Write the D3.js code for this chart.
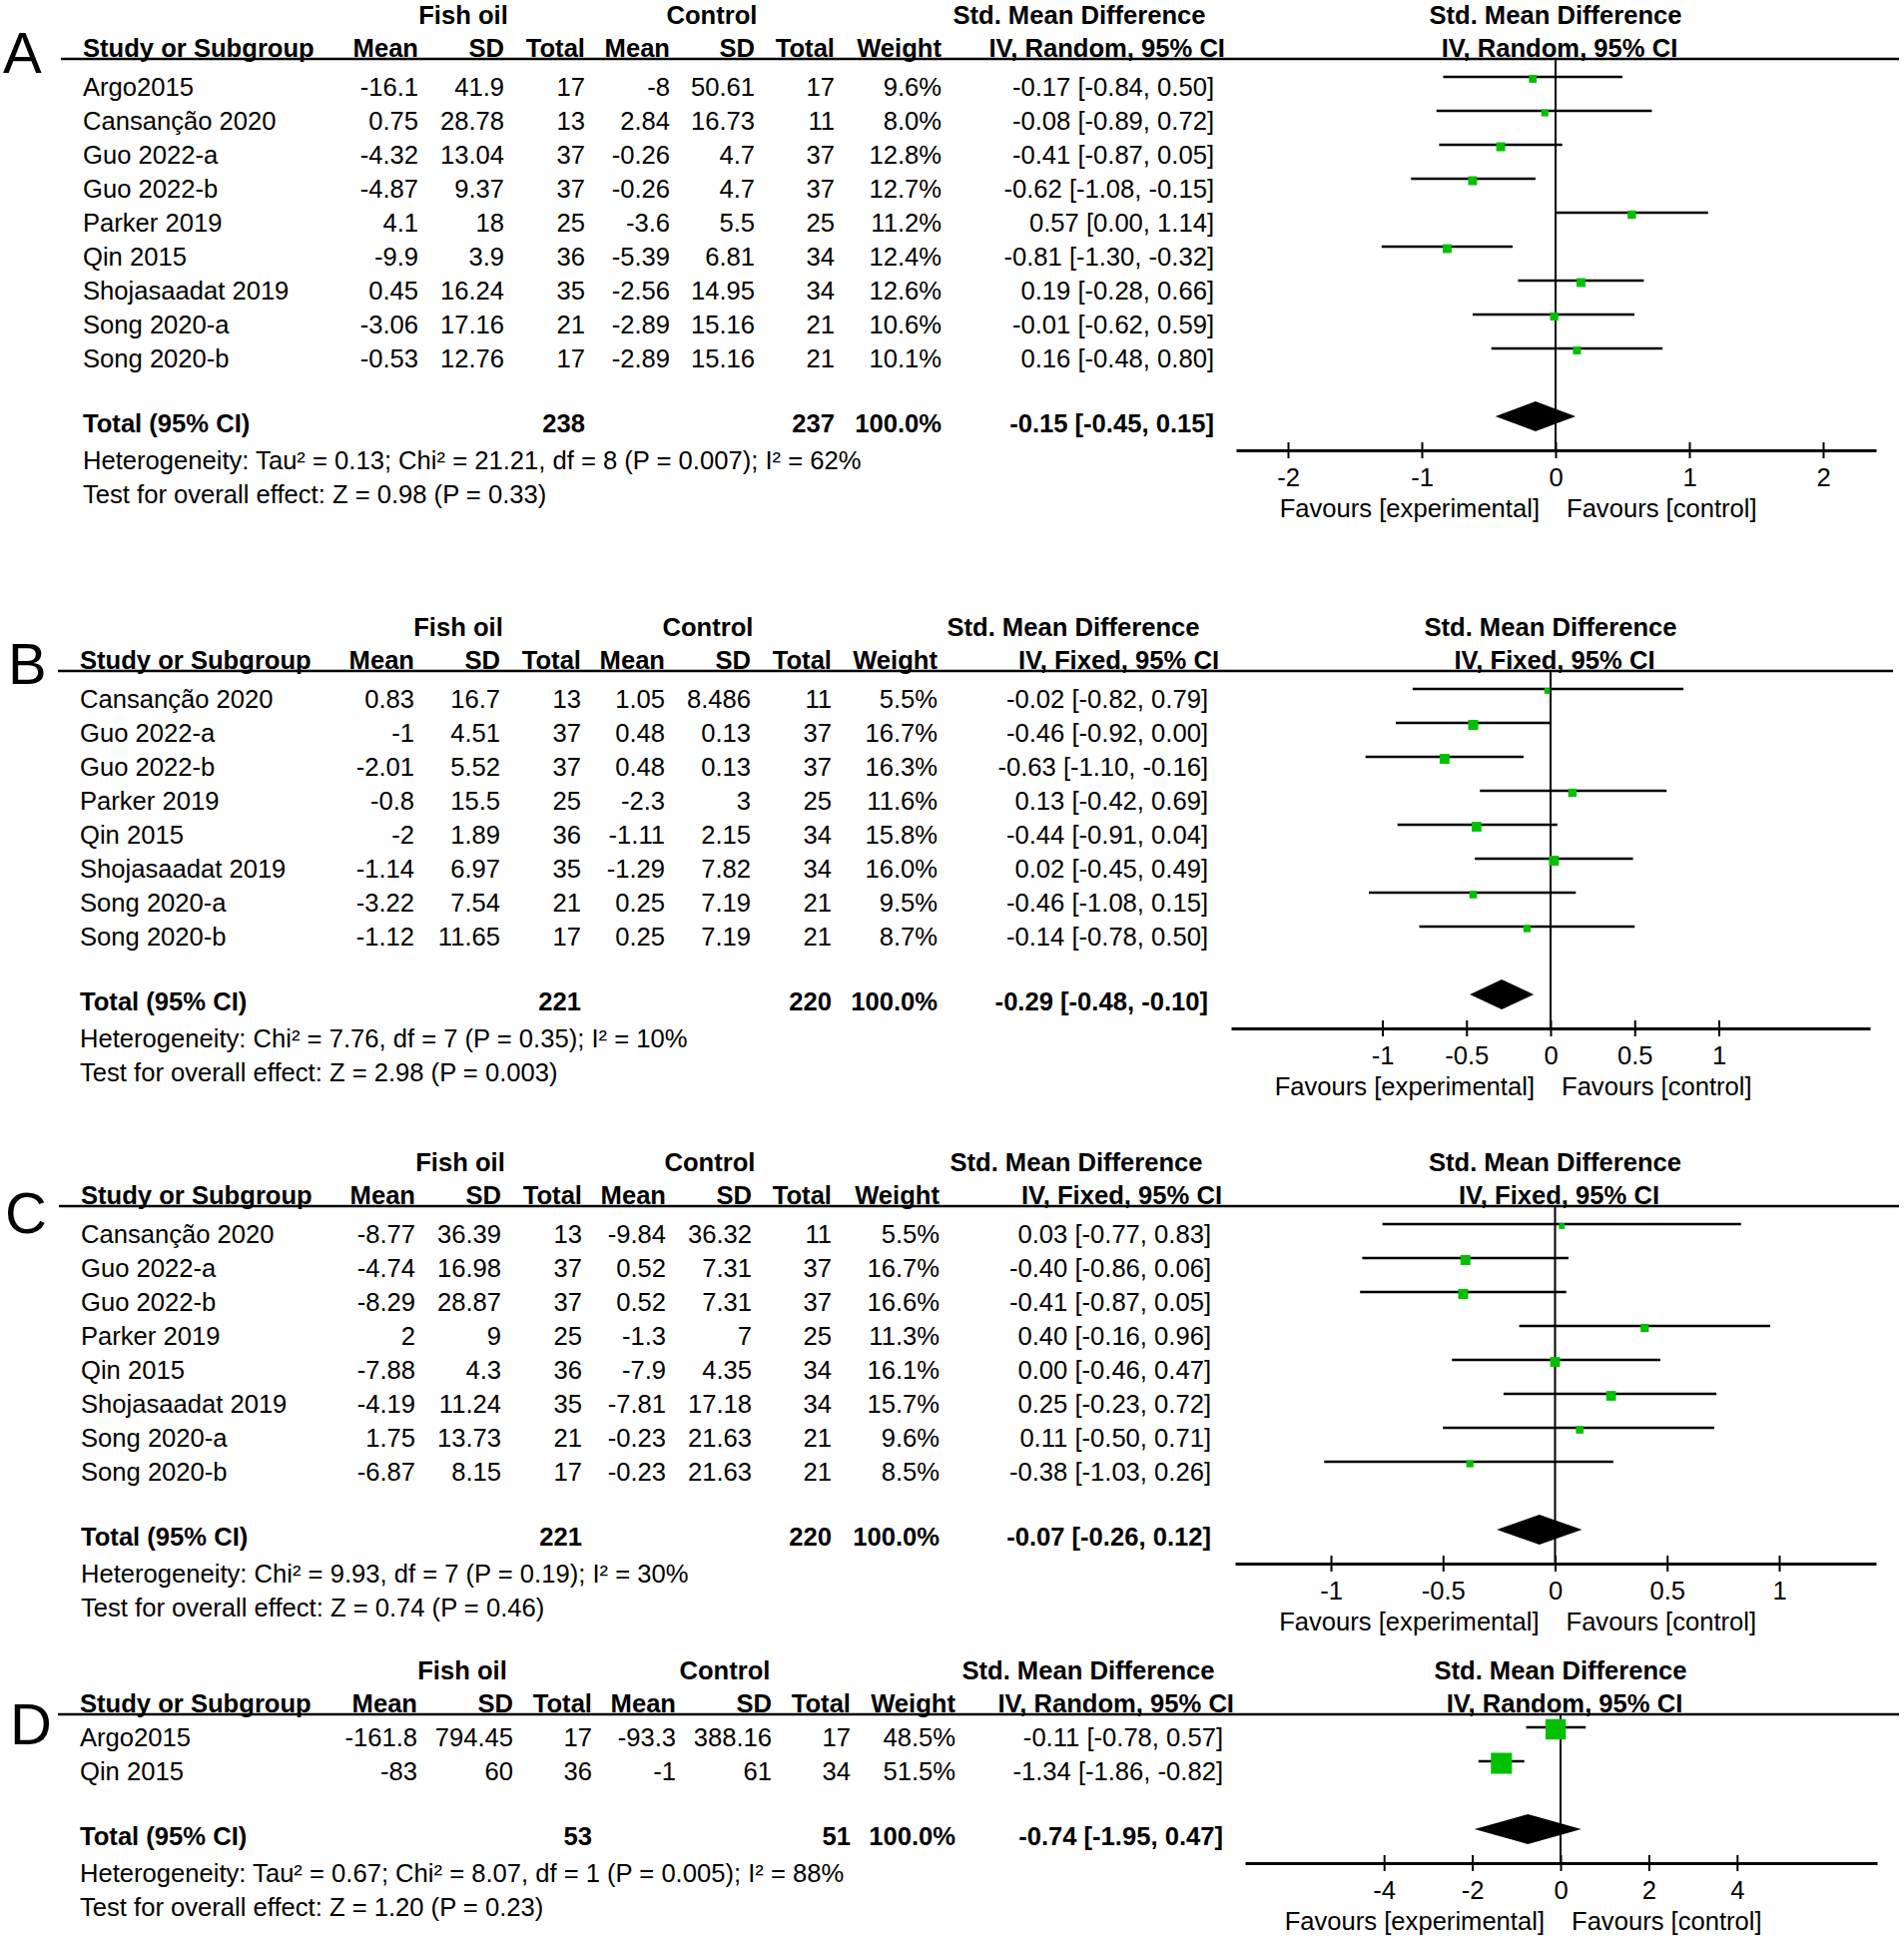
<!DOCTYPE html>
<html>
<head>
<meta charset="utf-8">
<script src="https://cdn.jsdelivr.net/npm/d3@7"></script>
<style>
  body { margin: 0; background: #fff; }
  text { font-family: "Liberation Sans", Arial, sans-serif; fill: #000; }
</style>
</head>
<body>
<div class="canvas"></div>
<script>
// ---- data ----
// fish oil / control rows are [mean, sd, total], smd rows are [estimate, lower, upper]

const studiesA = ["Argo2015", "Cansanção 2020", "Guo 2022-a", "Guo 2022-b", "Parker 2019",
  "Qin 2015", "Shojasaadat 2019", "Song 2020-a", "Song 2020-b"];
const fishA = [[-16.1, 41.9, 17], [0.75, 28.78, 13], [-4.32, 13.04, 37], [-4.87, 9.37, 37],
  [4.1, 18, 25], [-9.9, 3.9, 36], [0.45, 16.24, 35], [-3.06, 17.16, 21], [-0.53, 12.76, 17]];
const ctrlA = [[-8, 50.61, 17], [2.84, 16.73, 11], [-0.26, 4.7, 37], [-0.26, 4.7, 37],
  [-3.6, 5.5, 25], [-5.39, 6.81, 34], [-2.56, 14.95, 34], [-2.89, 15.16, 21], [-2.89, 15.16, 21]];
const weightA = [9.6, 8.0, 12.8, 12.7, 11.2, 12.4, 12.6, 10.6, 10.1];
const smdA = [[-0.17, -0.84, 0.50], [-0.08, -0.89, 0.72], [-0.41, -0.87, 0.05], [-0.62, -1.08, -0.15],
  [0.57, 0.00, 1.14], [-0.81, -1.30, -0.32], [0.19, -0.28, 0.66], [-0.01, -0.62, 0.59], [0.16, -0.48, 0.80]];
const totalA = [238, 237, 100.0, -0.15, -0.45, 0.15];

const studiesB = ["Cansanção 2020", "Guo 2022-a", "Guo 2022-b", "Parker 2019", "Qin 2015",
  "Shojasaadat 2019", "Song 2020-a", "Song 2020-b"];
const fishB = [[0.83, 16.7, 13], [-1, 4.51, 37], [-2.01, 5.52, 37], [-0.8, 15.5, 25],
  [-2, 1.89, 36], [-1.14, 6.97, 35], [-3.22, 7.54, 21], [-1.12, 11.65, 17]];
const ctrlB = [[1.05, 8.486, 11], [0.48, 0.13, 37], [0.48, 0.13, 37], [-2.3, 3, 25],
  [-1.11, 2.15, 34], [-1.29, 7.82, 34], [0.25, 7.19, 21], [0.25, 7.19, 21]];
const weightB = [5.5, 16.7, 16.3, 11.6, 15.8, 16.0, 9.5, 8.7];
const smdB = [[-0.02, -0.82, 0.79], [-0.46, -0.92, 0.00], [-0.63, -1.10, -0.16], [0.13, -0.42, 0.69],
  [-0.44, -0.91, 0.04], [0.02, -0.45, 0.49], [-0.46, -1.08, 0.15], [-0.14, -0.78, 0.50]];
const totalB = [221, 220, 100.0, -0.29, -0.48, -0.10];

const studiesC = ["Cansanção 2020", "Guo 2022-a", "Guo 2022-b", "Parker 2019", "Qin 2015",
  "Shojasaadat 2019", "Song 2020-a", "Song 2020-b"];
const fishC = [[-8.77, 36.39, 13], [-4.74, 16.98, 37], [-8.29, 28.87, 37], [2, 9, 25],
  [-7.88, 4.3, 36], [-4.19, 11.24, 35], [1.75, 13.73, 21], [-6.87, 8.15, 17]];
const ctrlC = [[-9.84, 36.32, 11], [0.52, 7.31, 37], [0.52, 7.31, 37], [-1.3, 7, 25],
  [-7.9, 4.35, 34], [-7.81, 17.18, 34], [-0.23, 21.63, 21], [-0.23, 21.63, 21]];
const weightC = [5.5, 16.7, 16.6, 11.3, 16.1, 15.7, 9.6, 8.5];
const smdC = [[0.03, -0.77, 0.83], [-0.40, -0.86, 0.06], [-0.41, -0.87, 0.05], [0.40, -0.16, 0.96],
  [0.00, -0.46, 0.47], [0.25, -0.23, 0.72], [0.11, -0.50, 0.71], [-0.38, -1.03, 0.26]];
const totalC = [221, 220, 100.0, -0.07, -0.26, 0.12];

const studiesD = ["Argo2015", "Qin 2015"];
const fishD = [[-161.8, 794.45, 17], [-83, 60, 36]];
const ctrlD = [[-93.3, 388.16, 17], [-1, 61, 34]];
const weightD = [48.5, 51.5];
const smdD = [[-0.11, -0.78, 0.57], [-1.34, -1.86, -0.82]];
const totalD = [53, 51, 100.0, -0.74, -1.95, 0.47];

const methods = ["IV, Random, 95% CI", "IV, Fixed, 95% CI", "IV, Fixed, 95% CI", "IV, Random, 95% CI"];
const hetTexts = [
  "Heterogeneity: Tau² = 0.13; Chi² = 21.21, df = 8 (P = 0.007); I² = 62%",
  "Heterogeneity: Chi² = 7.76, df = 7 (P = 0.35); I² = 10%",
  "Heterogeneity: Chi² = 9.93, df = 7 (P = 0.19); I² = 30%",
  "Heterogeneity: Tau² = 0.67; Chi² = 8.07, df = 1 (P = 0.005); I² = 88%"
];
const testTexts = [
  "Test for overall effect: Z = 0.98 (P = 0.33)",
  "Test for overall effect: Z = 2.98 (P = 0.003)",
  "Test for overall effect: Z = 0.74 (P = 0.46)",
  "Test for overall effect: Z = 1.20 (P = 0.23)"
];
const tickValues = [[-2, -1, 0, 1, 2], [-1, -0.5, 0, 0.5, 1], [-1, -0.5, 0, 0.5, 1], [-4, -2, 0, 2, 4]];
const letters = ["A", "B", "C", "D"];
const headerCols = ["Mean", "SD", "Total", "Mean", "SD", "Total", "Weight"];

// ---- layout (pixels) ----
const layout = [
  {top: 15, body: 72, letter: [3, 73], line: [61, 1902], cols: [83, 419, 505, 586, 671, 756, 836, 943, 1216],
   fishX: 464, ctrlX: 713, zero: 1558, range: [1238, 1879], unit: 134, sq: 2.5},
  {top: 628, body: 72, letter: [8, 685], line: [58, 1896], cols: [80, 415, 501, 582, 666, 752, 833, 939, 1210],
   fishX: 459, ctrlX: 709, zero: 1553, range: [1233, 1873], unit: 168.5, sq: 2.45},
  {top: 1164, body: 72, letter: [5, 1235], line: [59, 1902], cols: [81, 416, 502, 583, 667, 753, 833, 941, 1213],
   fishX: 461, ctrlX: 711, zero: 1557.5, range: [1237, 1879], unit: 224.5, sq: 2.45},
  {top: 1673, body: 67, letter: [10, 1747], line: [58, 1902], cols: [80, 418, 514, 593, 677, 773, 852, 957, 1225],
   fishX: 463, ctrlX: 726, zero: 1563, range: [1247, 1880], unit: 44.2, sq: 2.93}
];

const panels = [
  {studies: studiesA, fish: fishA, ctrl: ctrlA, weight: weightA, smd: smdA, total: totalA},
  {studies: studiesB, fish: fishB, ctrl: ctrlB, weight: weightB, smd: smdB, total: totalB},
  {studies: studiesC, fish: fishC, ctrl: ctrlC, weight: weightC, smd: smdC, total: totalC},
  {studies: studiesD, fish: fishD, ctrl: ctrlD, weight: weightD, smd: smdD, total: totalD}
];

const fontSize = 25.6;
const rowGap = 34;
const base = 9;         // text centre -> baseline
const green = "#00c000";

const svg = d3.select(".canvas").append("svg")
  .attr("width", 1907).attr("height", 1941);

function txt(g, x, yCenter, s, anchor, bold, size) {
  return g.append("text")
    .attr("x", x).attr("y", yCenter + base)
    .attr("text-anchor", anchor || "start")
    .attr("font-size", size || fontSize)
    .attr("font-weight", bold ? "bold" : "normal")
    .text(s);
}

function ci(v) {
  return v[0].toFixed(2) + " [" + v[1].toFixed(2) + ", " + v[2].toFixed(2) + "]";
}

function drawPanel(p, L, k) {
  const g = svg.append("g");
  const c = L.cols;
  const top = L.top;
  const lineY = top + 44;
  const rowY = i => top + L.body + rowGap * i;
  const totalY = rowY(p.studies.length - 1) + 65;
  const axisY = totalY + 27;

  const x = d3.scaleLinear()
    .domain([(L.range[0] - L.zero) / L.unit, (L.range[1] - L.zero) / L.unit])
    .range(L.range);

  // panel letter
  g.append("text").attr("x", L.letter[0]).attr("y", L.letter[1])
    .attr("font-size", 58).text(letters[k]);

  // header row 1
  txt(g, L.fishX, top, "Fish oil", "middle", true);
  txt(g, L.ctrlX, top, "Control", "middle", true);
  txt(g, c[8] - 135, top, "Std. Mean Difference", "middle", true);
  txt(g, L.zero, top, "Std. Mean Difference", "middle", true);

  // header row 2
  const hy = lineY - 11;
  txt(g, c[0], hy, "Study or Subgroup", "start", true);
  headerCols.forEach((h, i) => txt(g, c[i + 1], hy, h, "end", true));
  txt(g, c[8] + 11, hy, methods[k], "end", true);
  txt(g, L.zero + 4, hy, methods[k], "middle", true);

  g.append("line")
    .attr("x1", L.line[0]).attr("x2", L.line[1])
    .attr("y1", lineY).attr("y2", lineY)
    .attr("stroke", "#000").attr("stroke-width", 2.6);

  // study rows
  p.studies.forEach((s, i) => {
    const y = rowY(i);
    txt(g, c[0], y, s);
    p.fish[i].forEach((v, j) => txt(g, c[1 + j], y, String(v), "end"));
    p.ctrl[i].forEach((v, j) => txt(g, c[4 + j], y, String(v), "end"));
    txt(g, c[7], y, p.weight[i].toFixed(1) + "%", "end");
    txt(g, c[8], y, ci(p.smd[i]), "end");
  });

  // total row
  const t = p.total;
  txt(g, c[0], totalY, "Total (95% CI)", "start", true);
  txt(g, c[3], totalY, String(t[0]), "end", true);
  txt(g, c[6], totalY, String(t[1]), "end", true);
  txt(g, c[7], totalY, t[2].toFixed(1) + "%", "end", true);
  txt(g, c[8], totalY, ci(t.slice(3)), "end", true);

  txt(g, c[0], totalY + 37, hetTexts[k]);
  txt(g, c[0], totalY + 71, testTexts[k]);

  // zero line
  g.append("line")
    .attr("x1", x(0)).attr("x2", x(0))
    .attr("y1", lineY).attr("y2", axisY)
    .attr("stroke", "#000").attr("stroke-width", 2);

  // error bars and squares
  p.smd.forEach((v, i) => {
    const y = rowY(i) - 10;
    g.append("line")
      .attr("x1", x(v[1])).attr("x2", x(v[2]))
      .attr("y1", y).attr("y2", y)
      .attr("stroke", "#000").attr("stroke-width", 2.5);
    const side = L.sq * Math.sqrt(p.weight[i]);
    g.append("rect")
      .attr("x", x(v[0]) - side / 2).attr("y", y + 2 - side / 2)
      .attr("width", side).attr("height", side)
      .attr("fill", green);
  });

  // pooled diamond
  const dy = totalY - 7;
  g.append("path")
    .attr("d", `M${x(t[4])},${dy}L${x(t[3])},${dy - 15}L${x(t[5])},${dy}L${x(t[3])},${dy + 15}Z`)
    .attr("fill", "#000");

  // axis
  const ax = g.append("g")
    .attr("transform", `translate(0,${axisY})`)
    .call(d3.axisBottom(x).tickValues(tickValues[k]).tickSize(8).tickSizeOuter(0)
      .tickFormat(d => String(d)));
  ax.attr("font-size", fontSize);
  ax.select(".domain").attr("stroke-width", 3);
  ax.selectAll(".tick line").attr("y1", -8).attr("y2", 8).attr("stroke-width", 2);
  ax.selectAll(".tick text").attr("y", 27 + base).attr("dy", null);

  txt(g, x(0) - 16, totalY + 85, "Favours [experimental]", "end");
  txt(g, x(0) + 11, totalY + 85, "Favours [control]", "start");
}

panels.forEach((p, k) => drawPanel(p, layout[k], k));
</script>
</body>
</html>
